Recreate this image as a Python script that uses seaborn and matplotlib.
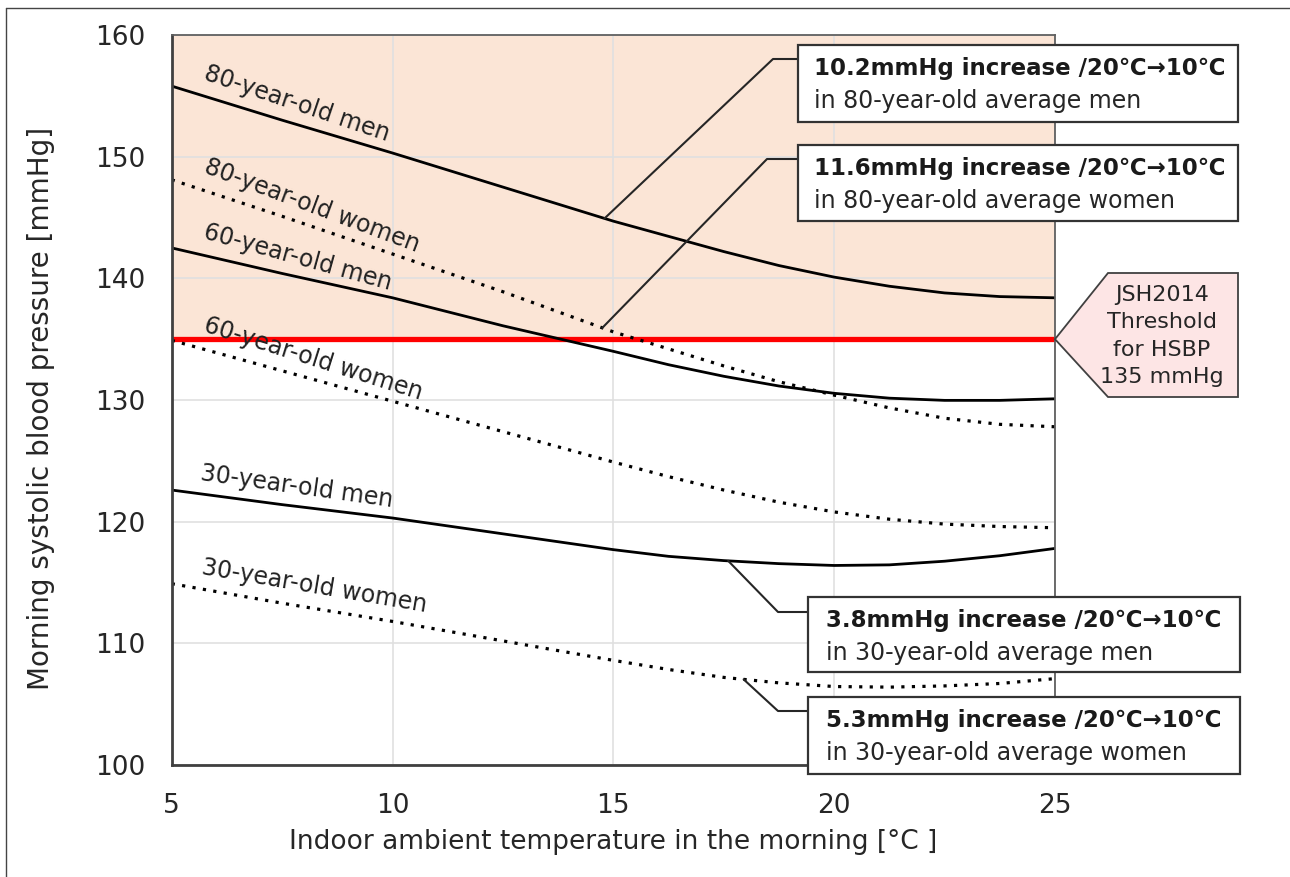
import numpy as np
import pandas as pd
import seaborn as sns
import matplotlib.pyplot as plt
from matplotlib.patches import Rectangle, Polygon
from matplotlib.lines import Line2D

# Values (morning SBP in mmHg)
temps = [5, 7.5, 10, 12.5, 15, 16.25, 17.5, 18.75, 20, 21.25, 22.5, 23.75, 25]
men_80 = [155.8, 153.0, 150.3, 147.5, 144.7, 143.45, 142.2, 141.05, 140.1, 139.35, 138.8, 138.5, 138.4]
women_80 = [148.1, 145.1, 142.0, 138.9, 135.6, 134.2, 132.8, 131.5, 130.4, 129.35, 128.5, 128.0, 127.8]
men_60 = [142.5, 140.4, 138.4, 136.1, 134.0, 132.9, 131.95, 131.15, 130.55, 130.15, 129.97, 129.97, 130.1]
women_60 = [134.9, 132.4, 129.9, 127.4, 124.9, 123.7, 122.6, 121.6, 120.8, 120.2, 119.8, 119.6, 119.5]
men_30 = [122.6, 121.4, 120.3, 119.0, 117.7, 117.15, 116.8, 116.55, 116.4, 116.45, 116.75, 117.2, 117.8]
women_30 = [114.9, 113.3, 111.8, 110.2, 108.6, 107.85, 107.2, 106.75, 106.45, 106.4, 106.5, 106.7, 107.1]

series_labels = ["80-year-old men", "80-year-old women", "60-year-old men",
                 "60-year-old women", "30-year-old men", "30-year-old women"]
series_values = [men_80, women_80, men_60, women_60, men_30, women_30]
series_sex = ["men", "women", "men", "women", "men", "women"]

threshold = 135
x_ticks = [5, 10, 15, 20, 25]
y_ticks = [100, 110, 120, 130, 140, 150, 160]

box_titles = ["10.2mmHg increase /20℃→10℃", "11.6mmHg increase /20℃→10℃",
              "3.8mmHg increase /20℃→10℃", "5.3mmHg increase /20℃→10℃"]
box_lines = ["in 80-year-old average men", "in 80-year-old average women",
             "in 30-year-old average men", "in 30-year-old average women"]
threshold_text = "JSH2014\nThreshold\nfor HSBP\n135 mmHg"

# long table for seaborn
df = pd.DataFrame({
    "temp": np.tile(temps, len(series_labels)),
    "sbp": np.concatenate(series_values),
    "group": np.repeat(series_labels, len(temps)),
    "sex": np.repeat(series_sex, len(temps)),
})

sns.set_theme(style="white")
plt.rcParams["font.family"] = ["DejaVu Sans", "Noto Sans CJK JP"]

W, H = 1290, 877
fig = plt.figure(figsize=(W / 100, H / 100), dpi=100)
ax = fig.add_axes([171.7 / W, 1 - 765 / H, (1055 - 171.7) / W, 730 / H])


def fig_xy(px, py):
    # pixel position (from top-left) -> figure fraction
    return px / W, 1 - py / H


def data_to_fig(x, y):
    disp = ax.transData.transform((x, y))
    return fig.transFigure.inverted().transform(disp)


ax.set_xlim(5, 25)
ax.set_ylim(100, 160)

# shaded zone above the threshold + red threshold line
ax.axhspan(threshold, 160, color="#FBE5D6", lw=0, zorder=0.2)
ax.axhline(threshold, color="#FF0000", lw=3.8, zorder=1.8)

for name, sex in zip(series_labels, series_sex):
    sub = df[df["group"] == name]
    if sex == "men":
        sns.lineplot(data=sub, x="temp", y="sbp", ax=ax, color="black", lw=2.0)
    else:
        sns.lineplot(data=sub, x="temp", y="sbp", ax=ax, color="black", lw=2.3,
                     linestyle=(0, (1, 2.3)))

# curve labels
label_pos = [(7.84, 154.4, -18.6), (8.18, 145.95, -20.5), (7.86, 141.75, -15.5),
             (8.20, 133.37, -17.5), (7.84, 122.85, -8.0), (8.22, 114.71, -9.6)]
for name, (lx, ly, rot) in zip(series_labels, label_pos):
    ax.text(lx, ly, name, rotation=rot, rotation_mode="anchor", ha="center",
            va="center", fontsize=17, color="#222222")

ax.set_xticks(x_ticks)
ax.set_yticks(y_ticks)
ax.tick_params(length=0, labelsize=19, labelcolor="#262626")
ax.tick_params(axis="x", pad=20)
ax.tick_params(axis="y", pad=19)
ax.set_axisbelow(True)
ax.grid(True, color="#E0E0E0", lw=1.2)

for side in ["left", "bottom"]:
    ax.spines[side].set_color("#404040")
    ax.spines[side].set_linewidth(2.0)
for side in ["top", "right"]:
    ax.spines[side].set_color("#606060")
    ax.spines[side].set_linewidth(1.3)

ax.set_xlabel("Indoor ambient temperature in the morning [°C ]", fontsize=19,
              color="#262626")
ax.set_ylabel("Morning systolic blood pressure [mmHg]", fontsize=20, color="#262626")
ax.xaxis.set_label_coords(0.5, -0.088)
ax.yaxis.set_label_coords(-0.132, 0.489)

# annotation boxes with leader lines
boxes = [(798, 45, 1238, 122, 814), (798, 145, 1238, 221, 814),
         (808, 597, 1240, 672, 826), (808, 697, 1240, 774, 826)]
anchors = [(14.8, men_80), (14.75, women_80), (17.6, men_30), (17.95, women_30)]
elbows = [(773, 59), (767, 159), (778, 612), (778, 711)]

for (x0, y0, x1, y1, tx), title, line2, (ax_x, vals), (ex, ey) in zip(
        boxes, box_titles, box_lines, anchors, elbows):
    cx, cy = data_to_fig(ax_x, np.interp(ax_x, temps, vals))
    e = fig_xy(ex, ey)
    b = fig_xy(x0, ey)
    fig.add_artist(Line2D([cx, e[0], b[0]], [cy, e[1], b[1]], color="#262626",
                          lw=1.5))
    bl = fig_xy(x0, y1)
    tr = fig_xy(x1, y0)
    fig.add_artist(Rectangle(bl, tr[0] - bl[0], tr[1] - bl[1],
                             transform=fig.transFigure, facecolor="white",
                             edgecolor="#333333", lw=1.6, zorder=5))
    fig.text(*fig_xy(tx, y0 + 23), title, fontsize=16.5, fontweight="bold",
             va="center", ha="left", color="#1a1a1a", zorder=6)
    fig.text(*fig_xy(tx, y0 + 56), line2, fontsize=17, va="center", ha="left",
             color="#262626", zorder=6)

# threshold callout
tip = data_to_fig(25, threshold)
pent = [tip, fig_xy(1108, 273), fig_xy(1238, 273), fig_xy(1238, 397),
        fig_xy(1108, 397)]
fig.add_artist(Polygon(pent, closed=True, transform=fig.transFigure,
                       facecolor="#FDE5E5", edgecolor="#404040", lw=1.3, zorder=5))
fig.text(*fig_xy(1162, 336), threshold_text, fontsize=16, ha="center", va="center",
         linespacing=1.45, color="#262626", zorder=6)

# outer frame of the picture
fig.add_artist(Line2D([5.5 / W, 5.5 / W], [0, 1 - 8 / H], color="#444444", lw=1.0))
fig.add_artist(Line2D([5.5 / W, 1], [1 - 8 / H, 1 - 8 / H], color="#444444", lw=1.0))

fig.savefig("out.png", dpi=100, facecolor="white")
